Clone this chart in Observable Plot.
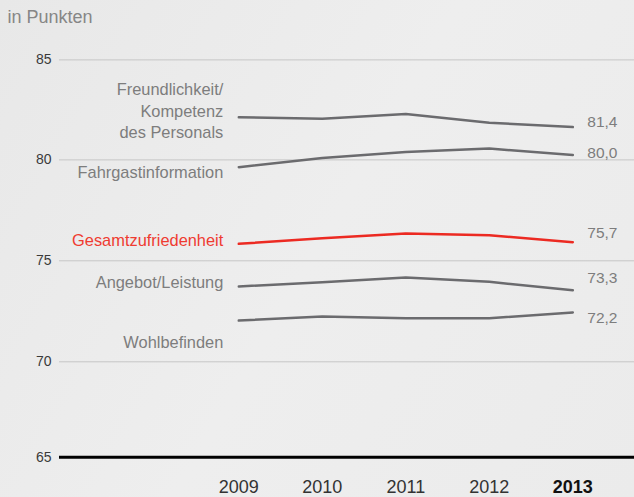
<!DOCTYPE html>
<html>
<head>
<meta charset="utf-8">
<script src="https://cdn.jsdelivr.net/npm/d3@7"></script>
<script src="https://cdn.jsdelivr.net/npm/@observablehq/plot@0.6"></script>
<style>
  html, body { margin: 0; padding: 0; }
  body { width: 634px; height: 497px; overflow: hidden;
         background: linear-gradient(120deg, #e8e8e8 0%, #eeeeee 50%, #ebebeb 100%);
         font-family: "Liberation Sans", Arial, sans-serif; }
  #chart svg { display: block; background: transparent; }
  g[aria-label="x-axis tick label"] text:last-of-type { font-weight: bold; fill: #111; }
</style>
</head>
<body>
<div id="chart"></div>
<script>
// ---- data ----
const years = [2009, 2010, 2011, 2012, 2013];
const seriesNames = ["Freundlichkeit/\nKompetenz\ndes Personals", "Fahrgastinformation", "Gesamtzufriedenheit", "Angebot/Leistung", "Wohlbefinden"];
const freundlichkeit = [82.13, 82.06, 82.29, 81.86, 81.64];
const fahrgastinfo   = [79.64, 80.09, 80.39, 80.57, 80.24];
const gesamt         = [75.84, 76.12, 76.35, 76.27, 75.92];
const angebot        = [73.73, 73.94, 74.17, 73.96, 73.54];
const wohlbefinden   = [72.04, 72.24, 72.16, 72.16, 72.44];
const endLabels      = ["81,4", "80,0", "75,7", "73,3", "72,2"];
// annotation anchors (data units) where the labels sit
const leftLabelAt    = [82.51, 79.44, 75.97, 73.98, 71.04];
const rightLabelAt   = [81.89, 80.33, 76.39, 74.14, 72.18];
const yTicks = [65, 70, 75, 80, 85];
const title = "in Punkten";

const allValues = [freundlichkeit, fahrgastinfo, gesamt, angebot, wohlbefinden];
const rows = [];
allValues.forEach((vals, i) => years.forEach((yr, j) => rows.push({series: seriesNames[i], year: yr, value: vals[j], highlight: i === 2})));
const left = seriesNames.map((s, i) => ({label: s, y: leftLabelAt[i], highlight: i === 2}));
const right = endLabels.map((s, i) => ({label: s, y: rightLabelAt[i]}));

const grey = "#6b6b6e", red = "#ec2a22";

const chart = Plot.plot({
  width: 634,
  height: 497,
  marginLeft: 59,
  marginRight: 0,
  marginTop: 0,
  marginBottom: 40,
  style: {fontFamily: "'Liberation Sans', Arial, sans-serif", background: "transparent"},
  x: {type: "linear", domain: [2009, 2013], range: [238.3, 572.3]},
  y: {type: "linear", domain: [65, 70, 75, 80, 85], range: [456.7, 361.3, 260.3, 159.4, 59.4]},
  marks: [
    Plot.ruleY(yTicks.slice(1), {stroke: "#c6c6c6", strokeWidth: 1}),
    Plot.ruleY([65], {stroke: "#000", strokeWidth: 3}),
    Plot.axisY(yTicks, {tickSize: 0, tickPadding: 8, fontSize: 14, color: "#3a3a3a", label: null}),
    Plot.axisX(years, {tickSize: 0, tickPadding: 23, fontSize: 18, color: "#333", tickFormat: d => String(d), label: null}),
    Plot.line(rows.filter(d => !d.highlight), {x: "year", y: "value", z: "series", stroke: grey, strokeWidth: 2.5}),
    Plot.line(rows.filter(d => d.highlight), {x: "year", y: "value", stroke: red, strokeWidth: 2.5}),
    Plot.text(left.filter(d => !d.highlight), {x: 2009, y: "y", text: "label", textAnchor: "end", dx: -15.5, fontSize: 16.4, lineHeight: 1.31, fill: "#7d7d7d"}),
    Plot.text(left.filter(d => d.highlight), {x: 2009, y: "y", text: "label", textAnchor: "end", dx: -15.5, fontSize: 16.4, fill: "#ef3b31"}),
    Plot.text(right, {x: 2013, y: "y", text: "label", textAnchor: "start", dx: 14.5, fontSize: 15.5, fill: "#7d7d7d"}),
    Plot.text([title], {frameAnchor: "top-left", dx: -52, dy: 17, textAnchor: "start", lineAnchor: "middle", fontSize: 18, fill: "#868686"})
  ]
});
document.getElementById("chart").appendChild(chart);
</script>
</body>
</html>
